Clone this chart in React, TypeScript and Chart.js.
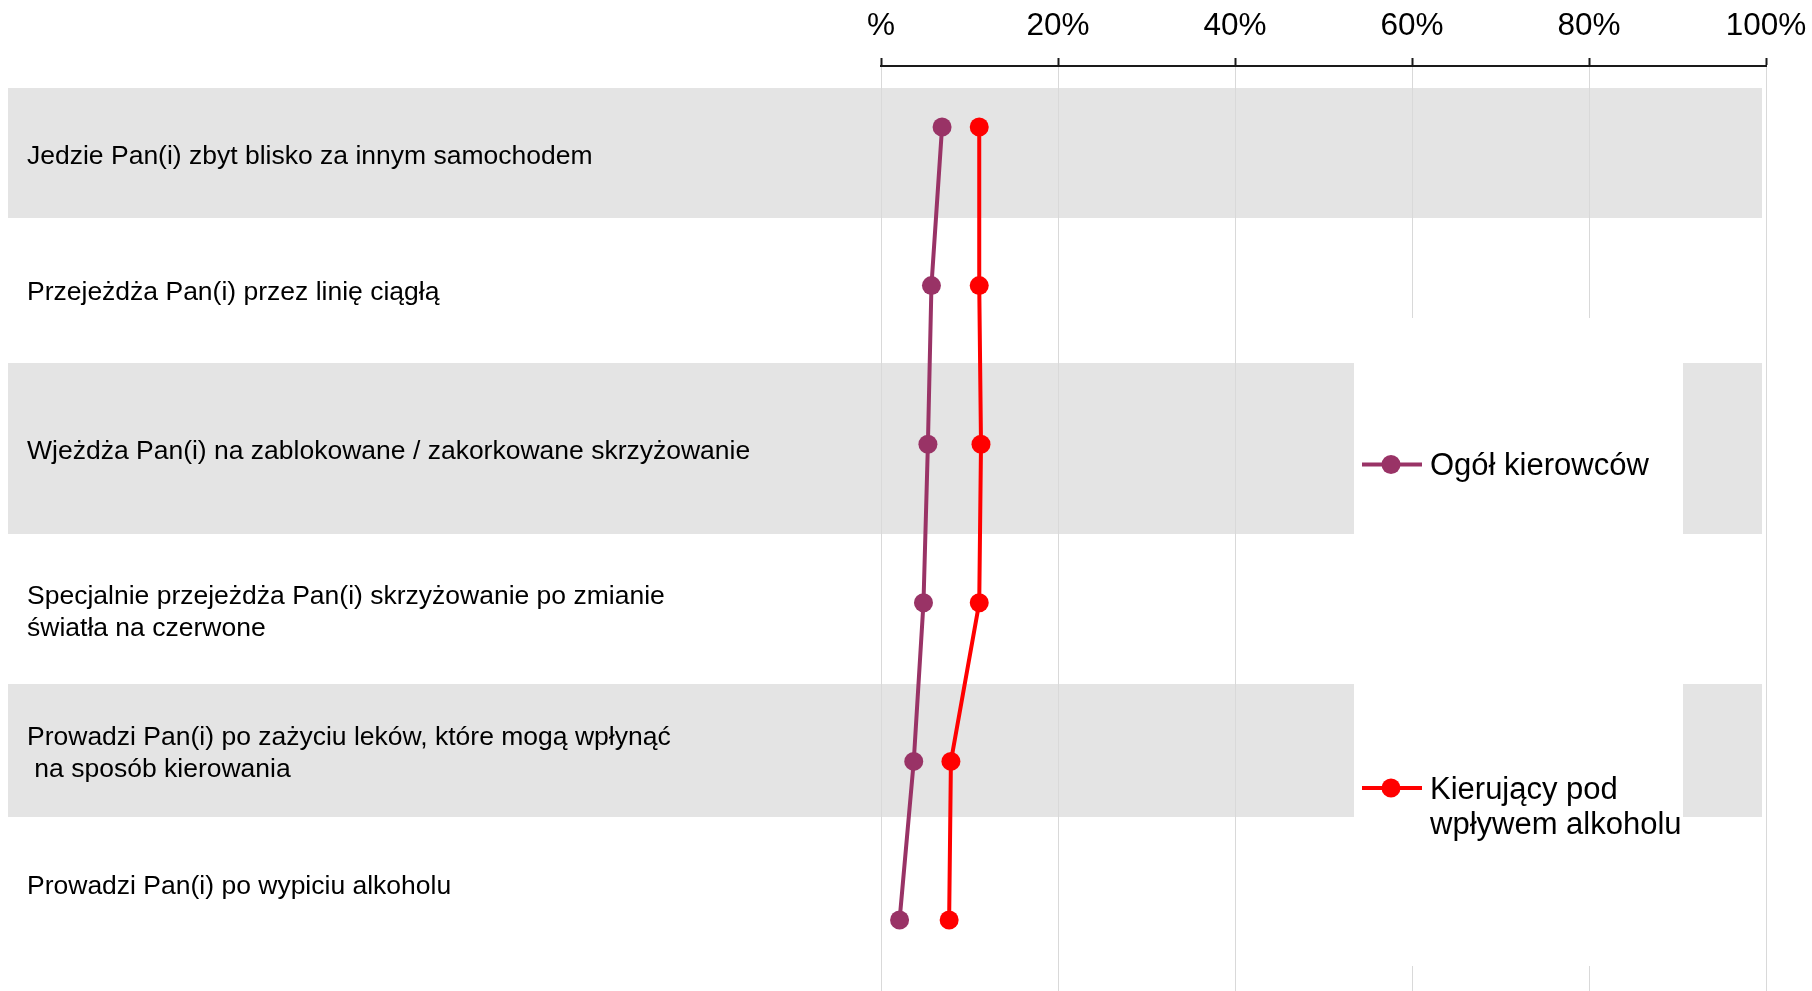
import React, { useEffect, useRef } from "react";
import { Chart, registerables } from "chart.js";

Chart.register(...registerables);

// ---- data ----
const categories: string[][] = [
  ["Jedzie Pan(i) zbyt blisko za innym samochodem"],
  ["Przejeżdża Pan(i) przez linię ciągłą"],
  ["Wjeżdża Pan(i) na zablokowane / zakorkowane skrzyżowanie"],
  ["Specjalnie przejeżdża Pan(i) skrzyżowanie po zmianie", "światła na czerwone"],
  ["Prowadzi Pan(i) po zażyciu leków, które mogą wpłynąć", " na sposób kierowania"],
  ["Prowadzi Pan(i) po wypiciu alkoholu"],
];
const ogolKierowcow = [6.9, 5.7, 5.3, 4.8, 3.7, 2.1];
const podWplywemAlkoholu = [11.1, 11.1, 11.3, 11.1, 7.9, 7.7];
const tickLabels = ["%", "20%", "40%", "60%", "80%", "100%"];
const seriesNames: string[][] = [["Ogół kierowców"], ["Kierujący pod", "wpływem alkoholu"]];

// ---- layout & style ----
const W = 1812;
const H = 991;
const FONT = '"Liberation Sans", Arial, Helvetica, sans-serif';
const PURPLE = "#993366";
const RED = "#ff0000";
const BAND = "#e4e4e4";
const AXIS_TOP = 66;
const PLOT_LEFT = 881;
const PLOT_RIGHT = 1766;
const FIRST_ROW_Y = 127;
const LAST_ROW_Y = 920;
const ROW_STEP = (LAST_ROW_Y - FIRST_ROW_Y) / (categories.length - 1);

const SHADED_ROWS: [number, number][] = [
  [88, 218],
  [363, 534],
  [684, 817],
];
const BAND_LEFT = 8;
const BAND_RIGHT = 1762;
const LABEL_X = 27;
const LABEL_Y = [157, 293, 451.5, 613, 754, 887];
const LABEL_LINE = 32;
const LEGEND_BOX = { x0: 1354, x1: 1683, y0: 318, y1: 966 };
const LEGEND_Y = [466.5, 790];
const LEGEND_LINE = 35;

const rowTable = (values: number[]) => values.map((v, i) => ({ x: v, y: i }));

const backdrop = {
  id: "backdrop",
  beforeDraw(chart: Chart) {
    const ctx = chart.ctx;
    ctx.save();
    ctx.fillStyle = "#ffffff";
    ctx.fillRect(0, 0, W, H);
    ctx.fillStyle = BAND;
    for (const [y0, y1] of SHADED_ROWS) {
      ctx.fillRect(BAND_LEFT, y0, BAND_RIGHT - BAND_LEFT, y1 - y0);
    }
    ctx.restore();
  },
  beforeDatasetsDraw(chart: Chart) {
    const ctx = chart.ctx;
    ctx.save();
    // legend panel
    ctx.fillStyle = "#ffffff";
    ctx.fillRect(LEGEND_BOX.x0, LEGEND_BOX.y0, LEGEND_BOX.x1 - LEGEND_BOX.x0, LEGEND_BOX.y1 - LEGEND_BOX.y0);
    const colors = [PURPLE, RED];
    seriesNames.forEach((lines, i) => {
      const y = LEGEND_Y[i];
      ctx.strokeStyle = colors[i];
      ctx.lineWidth = 4;
      ctx.beginPath();
      ctx.moveTo(1362, y - 2);
      ctx.lineTo(1422, y - 2);
      ctx.stroke();
      ctx.fillStyle = colors[i];
      ctx.beginPath();
      ctx.arc(1391, y - 2, 9.5, 0, Math.PI * 2);
      ctx.fill();
      ctx.fillStyle = "#000";
      ctx.font = `31px ${FONT}`;
      ctx.textAlign = "left";
      ctx.textBaseline = "middle";
      lines.forEach((t, j) => ctx.fillText(t, 1430, y + j * LEGEND_LINE));
    });
    // row labels
    ctx.fillStyle = "#000";
    ctx.font = `26.5px ${FONT}`;
    ctx.textAlign = "left";
    ctx.textBaseline = "middle";
    categories.forEach((lines, i) => {
      const start = LABEL_Y[i] - ((lines.length - 1) * LABEL_LINE) / 2;
      lines.forEach((t, j) => ctx.fillText(t, LABEL_X, start + j * LABEL_LINE));
    });
    ctx.restore();
  },
};

export default function App() {
  const ref = useRef<HTMLCanvasElement>(null);

  useEffect(() => {
    const canvas = ref.current;
    if (!canvas) return;
    const chart = new Chart(canvas, {
      type: "line",
      data: {
        labels: categories.map((c) => c.join(" ")),
        datasets: [
          {
            label: seriesNames[0].join(" "),
            data: rowTable(ogolKierowcow),
            borderColor: PURPLE,
            backgroundColor: PURPLE,
            pointBackgroundColor: PURPLE,
            borderWidth: 4,
            pointRadius: 9.5,
            pointHoverRadius: 9.5,
            pointBorderWidth: 0,
            tension: 0,
          },
          {
            label: seriesNames[1].join(" "),
            data: rowTable(podWplywemAlkoholu),
            borderColor: RED,
            backgroundColor: RED,
            pointBackgroundColor: RED,
            borderWidth: 4,
            pointRadius: 9.5,
            pointHoverRadius: 9.5,
            pointBorderWidth: 0,
            tension: 0,
          },
        ],
      },
      options: {
        indexAxis: "y",
        animation: false,
        responsive: false,
        devicePixelRatio: 1,
        layout: {
          autoPadding: false,
          padding: { top: 0, left: PLOT_LEFT, right: W - PLOT_RIGHT, bottom: 0 },
        },
        plugins: { legend: { display: false }, tooltip: { enabled: false } },
        scales: {
          x: {
            type: "linear",
            position: "top",
            min: 0,
            max: 100,
            afterFit: (scale: any) => {
              // the layout padding already leaves room for the end labels
              scale.height = AXIS_TOP;
              scale.paddingLeft = 0;
              scale.paddingRight = 0;
            },
            ticks: {
              stepSize: 20,
              padding: 13,
              color: "#000",
              font: { size: 31.5, family: FONT },
              maxRotation: 0,
              autoSkip: false,
              callback: (_v: any, i: number) => tickLabels[i],
            },
            grid: {
              color: "#d9d9d9",
              lineWidth: 1,
              tickColor: "#1a1a1a",
              tickLength: 8,
              tickWidth: 2,
            },
            border: { color: "#1a1a1a", width: 2 },
          },
          y: {
            type: "linear",
            display: false,
            reverse: true,
            min: -(FIRST_ROW_Y - AXIS_TOP) / ROW_STEP,
            max: categories.length - 1 + (H - LAST_ROW_Y) / ROW_STEP,
          },
        },
      },
      plugins: [backdrop],
    } as any);
    return () => chart.destroy();
  }, []);

  return (
    <div style={{ position: "fixed", left: 0, top: 0, width: W, height: H, background: "#fff" }}>
      <canvas ref={ref} width={W} height={H} style={{ display: "block", width: W, height: H }} />
    </div>
  );
}
